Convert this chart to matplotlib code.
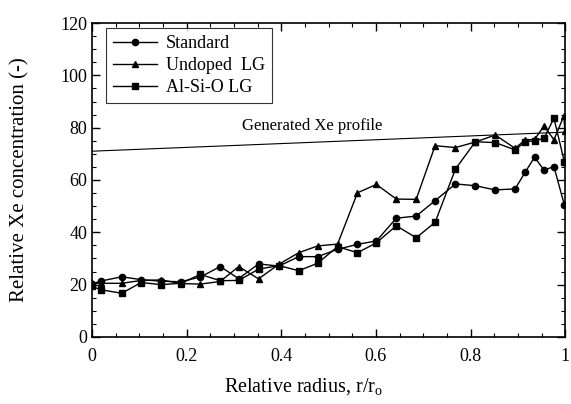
import matplotlib
matplotlib.use("Agg")
import matplotlib.pyplot as plt
from matplotlib.ticker import MultipleLocator

# ── Data ────────────────────────────────────────────────────────────────────
radius = [0, 0.02, 0.063, 0.104, 0.146, 0.188, 0.229, 0.271, 0.31, 0.352,
          0.395, 0.437, 0.477, 0.519, 0.561, 0.601, 0.643, 0.685, 0.725,
          0.768, 0.810, 0.852, 0.894, 0.915, 0.935, 0.955, 0.976, 0.998]

standard = [20.3, 21.4, 23.0, 21.9, 21.3, 21.1, 22.9, 26.9, 22.3, 27.9,
            27.1, 30.7, 30.7, 33.5, 35.4, 36.7, 45.4, 46.2, 52.1,
            58.5, 57.8, 56.2, 56.6, 62.9, 68.7, 63.8, 65.1, 50.5]

undoped_radius = radius[:-1] + [0.997, 0.999]
undoped = [20.5, 20.5, 20.5, 21.6, 21.8, 20.4, 20.2, 21.2, 26.9, 22.2,
           27.8, 32.2, 34.8, 35.5, 55.1, 58.3, 52.7, 52.6, 73.1,
           72.4, 74.5, 77.2, 72.1, 75.3, 75.5, 80.6, 75.4, 84.5, 78.8]

alsio = [19.3, 18.0, 16.7, 20.8, 20.0, 20.5, 23.9, 21.5, 21.6, 25.9,
         27.3, 25.3, 28.2, 34.5, 32.2, 36.0, 42.5, 37.9, 43.8,
         64.2, 74.6, 74.3, 71.5, 74.6, 75.0, 75.9, 83.6, 67.0]

profile_x = [0, 1]
profile_y = [71.0, 78.3]

plt.rcParams['font.family'] = ['Liberation Serif', 'DejaVu Serif']

fig = plt.figure(figsize=(5.71, 4.04), dpi=100)
ax = fig.add_axes([0.161, 0.166, 0.829, 0.777])

ax.plot(radius, standard, '-o', color='black', lw=1.0, ms=4.5, label='Standard')
ax.plot(undoped_radius, undoped, '-^', color='black', lw=1.0, ms=5, label='Undoped  LG')
ax.plot(radius, alsio, '-s', color='black', lw=1.0, ms=5, label='Al-Si-O LG')
ax.plot(profile_x, profile_y, '-', color='black', lw=0.8)
ax.text(0.317, 80.6, 'Generated Xe profile', fontsize=12, ha='left', va='center')

ax.set_xlim(0, 1)
ax.set_ylim(0, 120)
ax.xaxis.set_major_locator(MultipleLocator(0.2))
ax.xaxis.set_minor_locator(MultipleLocator(0.05))
ax.yaxis.set_major_locator(MultipleLocator(20))
ax.yaxis.set_minor_locator(MultipleLocator(5))
ax.set_xticks([0, 0.2, 0.4, 0.6, 0.8, 1.0])
ax.set_xticklabels(['0', '0.2', '0.4', '0.6', '0.8', '1'])
ax.tick_params(which='both', direction='in', top=True, right=True, labelsize=13)
ax.tick_params(which='major', length=6, width=1)
ax.tick_params(which='minor', length=3, width=0.8)
ax.tick_params(axis='x', pad=8)
for s in ax.spines.values():
    s.set_linewidth(1.2)

ax.set_xlabel('Relative radius, r/r$_\\mathregular{o}$', fontsize=14.5, labelpad=8,
              x=0.448, ha='center')
ax.set_ylabel('Relative Xe concentration (-)', fontsize=15, labelpad=22)

leg = ax.legend(loc='upper left', bbox_to_anchor=(0.03, 0.985), borderaxespad=0,
                fontsize=13, frameon=True, fancybox=False, edgecolor='black',
                handlelength=2.4, borderpad=0.4, labelspacing=0.28, handletextpad=0.5)
leg.get_frame().set_linewidth(0.8)

fig.savefig('out.png', dpi=100)
